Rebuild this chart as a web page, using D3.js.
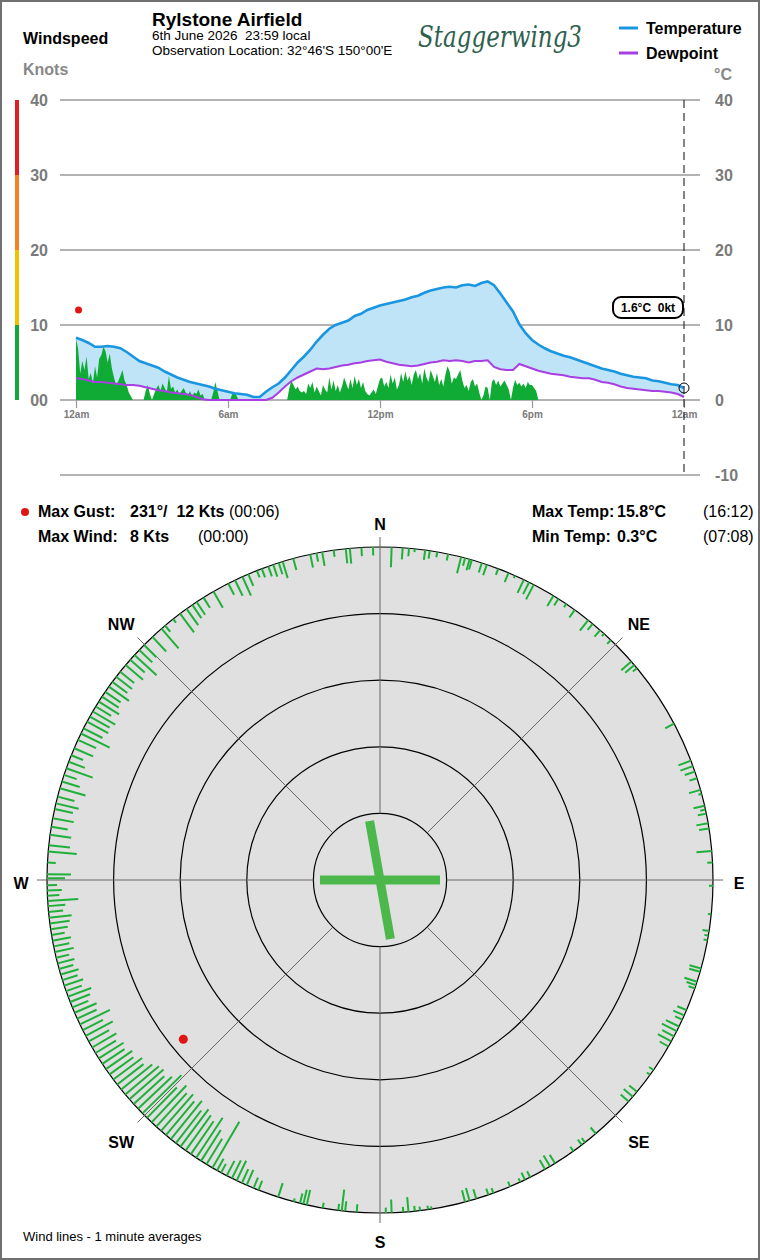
<!DOCTYPE html>
<html>
<head>
<meta charset="utf-8">
<script src="https://cdn.jsdelivr.net/npm/d3@7"></script>
<style>
  body { margin: 0; background: #fff; }
  svg { display: block; font-family: "Liberation Sans", Arial, sans-serif; }
</style>
</head>
<body>
<div id="chart"></div>
<script>
// temperature + dewpoint, 15 minute samples 00:00 -> 24:00 (deg C)
const tempC = [
  8.3, 8.0, 7.6, 7.1,   7.1, 7.2, 7.1, 6.9,   6.4, 5.8, 5.2, 4.9,   4.6, 4.3, 3.8, 3.4,
  3.0, 2.7, 2.4, 2.2,   2.0, 1.8, 1.5, 1.3,   1.1, 0.9, 0.8, 0.7,   0.4, 0.4, 1.1, 1.7,
  2.2, 3.0, 4.0, 5.0,   5.8, 6.7, 7.8, 8.7,   9.5, 10.0, 10.3, 10.6, 11.2, 11.5, 12.0, 12.3,
  12.6, 12.8, 13.0, 13.2, 13.4, 13.7, 13.9, 14.3, 14.6, 14.8, 15.0, 15.1, 15.0, 15.3, 15.4, 15.2,
  15.6, 15.8, 15.3, 14.2, 13.0, 11.8, 10.1, 8.9,  8.0, 7.4, 6.9, 6.5,   6.2, 5.9, 5.7, 5.4,
  5.1, 4.8, 4.5, 4.2,   4.0, 3.8, 3.5, 3.3,   3.1, 3.0, 2.9, 2.6,   2.5, 2.3, 2.1, 2.0,
  1.6
];
const dewC = [
  2.9, 2.8, 2.6, 2.4,   2.4, 2.3, 2.2, 2.1,   2.0, 2.0, 1.9, 1.7,   1.5, 1.3, 1.2, 1.0,
  0.9, 0.8, 0.7, 0.4,   0.1, 0.0, 0.0, 0.0,   0.0, 0.0, 0.0, 0.0,   0.0, 0.0, 0.0, 0.3,
  1.0, 1.8, 2.5, 3.0,   3.4, 3.8, 4.2, 4.1,   4.2, 4.4, 4.6, 4.7,   4.9, 5.0, 5.2, 5.3,
  5.4, 5.1, 4.9, 4.7,   4.6, 4.5, 4.6, 4.8,   5.0, 5.1, 5.3, 5.2,   5.3, 5.2, 5.0, 5.2,
  5.2, 5.3, 4.4, 4.1,   4.0, 4.0, 4.8, 4.5,   4.2, 3.9, 3.7, 3.5,   3.4, 3.3, 3.1, 3.0,
  2.9, 2.9, 2.7, 2.4,   2.3, 2.1, 1.8, 1.6,   1.5, 1.4, 1.3, 1.2,   1.2, 1.1, 1.0, 0.8,
  0.4
];
// wind speed, 5 minute samples (knots), one row per hour
const windKts = [
  8.2, 6.8, 3.5, 5.2, 4.0, 5.8, 2.8, 3.6, 2.2, 4.5, 3.0, 5.5,
  6.0, 7.1, 6.5, 5.0, 6.2, 4.2, 3.0, 2.0, 2.5, 3.2, 4.0, 2.6,
  2.0, 1.0, 0.5, 0, 0, 0, 0, 0, 0, 1.2, 2.0, 0.8,
  0, 0.8, 1.5, 2.0, 1.2, 2.2, 1.6, 1.0, 3.2, 1.5, 1.8, 1.0,
  1.4, 0.8, 1.2, 1.6, 1.0, 0.6, 1.2, 0.5, 1.0, 0.8, 1.4, 0.6,
  0.8, 0, 0, 0, 0, 1.0, 2.4, 1.2, 0, 0, 0, 0,
  0, 0, 0.8, 1.0, 0.6, 0, 0, 0, 0, 0, 0, 0,
  0, 0, 0, 0, 0, 0, 0, 0, 0, 0, 0, 0,
  0, 0, 0, 0, 0, 1.5, 2.6, 2.0, 1.4, 1.8, 1.2, 1.0,
  1.2, 0.8, 2.2, 1.6, 2.4, 1.0, 1.8, 1.2, 0.6, 2.0, 1.4, 1.0,
  3.0, 1.4, 2.6, 1.2, 2.0, 1.0, 1.8, 3.0, 2.2, 1.4, 2.8, 1.6,
  3.2, 2.0, 2.8, 1.6, 2.4, 1.2, 0.8, 0.6, 1.0, 1.4, 0.8, 1.8,
  2.8, 3.0, 1.8, 2.4, 1.6, 3.4, 2.2, 3.0, 1.4, 2.0, 3.6, 2.4,
  3.8, 2.6, 3.2, 2.0, 3.4, 4.0, 2.8, 3.6, 2.2, 4.2, 3.0, 2.4,
  4.0, 3.2, 2.4, 3.6, 2.0, 2.8, 1.8, 3.4, 4.5, 3.8, 2.2, 3.0,
  2.8, 3.4, 4.0, 2.6, 1.6, 2.0, 1.2, 2.4, 2.8, 1.8, 2.2, 1.0,
  0, 0.6, 1.8, 1.6, 0, 2.4, 2.8, 2.0, 2.6, 1.8, 2.2, 2.6,
  2.0, 1.4, 0, 1.6, 2.7, 2.0, 2.3, 1.8, 2.2, 1.6, 2.4, 2.0,
  2.0, 1.6, 1.2, 0, 0, 0, 0, 0, 0, 0, 0, 0,
  0, 0, 0, 0, 0, 0, 0, 0, 0, 0, 0, 0,
  0, 0, 0, 0, 0, 0, 0, 0, 0, 0, 0, 0,
  0, 0, 0, 0, 0, 0, 0, 0, 0, 0, 0, 0,
  0, 0, 0, 0, 0, 0, 0, 0, 0, 0, 0, 0,
  0, 0, 0, 0, 0, 0, 0, 0, 0, 0, 0, 0,
  0
];

const speedTicks = [0, 10, 20, 30, 40];
const tempTicks = [40, 30, 20, 10, 0, -10];
const hourTicks = [0, 6, 12, 18, 24];
const hourLabels = ["12am", "6am", "12pm", "6pm", "12am"];
const bandColors = ["#14a83a", "#f2c200", "#f5821f", "#e02020"];

// wind rose: 1 minute averages as [bearing, knots]
const roseNE = [
  [2, 3.0], [3.9, 1.75], [5, 1.2], [6, 0.5], [7.8, 1.5], [8.6, 1.2], [9.9, 0.8], [11.8, 1.0],
  [14.1, 2.5], [14.8, 1.2], [15.6, 1.7], [16, 1.5], [17.8, 1.5], [18.7, 1.7], [20.8, 1.0],
  [22.7, 1.5], [23.9, 0.4], [25.6, 2.2], [26.6, 2.0], [27.5, 2.5], [31.4, 1.8], [32.4, 1.2],
  [34, 0.6], [35.8, 1.4], [38.7, 2.0], [39.7, 1.2], [41.4, 1.3], [42.3, 0.5], [43.9, 0.8],
  [49, 2.0], [49.8, 1.8], [50.5, 0.8], [62, 1.5], [69, 2.0], [70, 2.0], [71, 1.6], [72.2, 1.2],
  [74.3, 1.8], [75, 0.5], [77.1, 1.7], [77.8, 0.8], [78.5, 1.3], [80.2, 1.8], [81.1, 1.5],
  [85, 2.3], [87, 0.8]
];
const roseSE = [
  [91, 0.6], [95.9, 0.5], [98.8, 1.0], [99.6, 0.6], [100.4, 0.6], [105.4, 1.8], [106, 1.7],
  [107.8, 2.0], [108.4, 1.5], [109, 1.0], [113, 1.5], [114, 1.8], [114.8, 1.2], [116.1, 2.2],
  [117, 2.5], [118, 2.0], [119, 2.3], [120, 1.5], [124.8, 0.8], [125.8, 0.6], [129.5, 1.5],
  [130.6, 1.8], [131.7, 1.6], [139.6, 1.2], [142, 0.8], [142.7, 1.0], [144.5, 0.8], [148.3, 1.5],
  [149.3, 1.9], [150.3, 1.6], [153.2, 1.0], [154.2, 1.2], [155.1, 0.6], [157, 0.8], [160.1, 0.8],
  [161, 1.0], [163.2, 1.5], [164.4, 2.0], [165.2, 1.8], [171.1, 0.4], [171.7, 0.6], [173.1, 0.6],
  [174, 0.8], [175.1, 2.2], [176, 0.8], [178, 2.0], [179, 0.8]
];
const roseSW = [
  [184, 1.2], [186, 1.5], [186.6, 3.2], [187.2, 1.0], [189.9, 0.8], [192.7, 2.3], [193.3, 2.2],
  [193.9, 1.5], [195, 0.5], [197.8, 2.2], [201.4, 1.5], [202.3, 1.7], [203.6, 2.5], [204.5, 2.3],
  [205.5, 3.3], [206.4, 3.0], [207.4, 2.5], [208.5, 1.5], [209.3, 2.0], [210.2, 8.0],
  [211.4, 4.5], [212.5, 5.5], [213.5, 7.2], [214.6, 6.0], [215.7, 6.5], [216.8, 7.0], [217.8, 6.2],
  [218.9, 7.4], [220, 6.6], [221.1, 7.3], [222.2, 6.8], [223.3, 7.6], [224.4, 6.4], [225.5, 8.2],
  [226.6, 7.0], [227.7, 6.2], [228.8, 6.8], [229.9, 6.6], [231, 6.0], [232.1, 5.0], [233.2, 5.4],
  [234.3, 4.4], [235.4, 4.8], [236.5, 4.0], [237.6, 4.4], [238.7, 3.6], [239.8, 4.2], [241, 3.5],
  [242.1, 4.6], [243.2, 3.4], [244.3, 5.0], [245.4, 3.2], [246.5, 3.6], [247.5, 2.6], [248.5, 3.2],
  [249.5, 3.7], [250.5, 2.5], [251.5, 3.0], [252.5, 2.4], [253.5, 2.8], [254.5, 2.2], [255.5, 2.6],
  [256.5, 2.0], [257.5, 2.9], [258.5, 2.4], [259.5, 2.8], [260.5, 2.0], [261.5, 2.6], [262.5, 3.0],
  [263.5, 3.4], [264.5, 2.2], [265.5, 2.6], [266.4, 4.6], [267.3, 1.8], [268.2, 2.2], [269.1, 1.5]
];
const roseNW = [
  [270.3, 2.7], [271, 3.6], [273, 1.25], [274.9, 4.3], [276, 3.2], [277.8, 3.2], [279.2, 2.5],
  [280.7, 3.2], [282.3, 2.8], [283.3, 3.5], [284.5, 2.6], [286, 4.0], [287.2, 2.8], [288.4, 2.0],
  [289.6, 4.2], [290.8, 2.6], [292, 1.9], [293.3, 3.1], [294.9, 3.0], [296.1, 4.8], [297.1, 3.2],
  [298.4, 3.6], [299.4, 3.4], [300.4, 3.9], [301.4, 2.7], [302.4, 3.6], [303.4, 3.0], [304.4, 2.8],
  [305.5, 3.7], [306.5, 2.8], [307.6, 3.0], [308.7, 2.7], [310.2, 3.4], [311.4, 2.9], [312.5, 4.5],
  [313.7, 2.7], [314.9, 2.6], [316.9, 3.0], [319, 3.9], [319.8, 1.2], [321.6, 0.7], [323.1, 3.5],
  [324.5, 3.0], [325.7, 2.4], [326.6, 2.3], [328, 1.8], [330, 2.8], [332.9, 1.9], [334.2, 2.6],
  [335.6, 3.1], [336.7, 1.9], [338.3, 1.1], [339.2, 1.4], [340.4, 1.6], [341.3, 1.9], [342.3, 1.8],
  [343, 2.6], [344.9, 1.8], [347.9, 2.0], [349, 1.3], [350, 2.1], [352, 1.0], [354.1, 2.2],
  [354.8, 2.3], [356.8, 1.3], [358.8, 1.25]
];
const compass = ["N", "NE", "E", "SE", "S", "SW", "W", "NW"];
const ringKts = [10, 20, 30, 40];
const runways = [90, 170];

const gust = { dir: 231, kts: 12, time: "00:06", hour: 0.1 };
const maxWind = { kts: 8, time: "00:00" };
const maxTemp = { c: 15.8, time: "16:12" };
const minTemp = { c: 0.3, time: "07:08" };

const width = 760, height = 1260;
const grey = "#7a7a7a";

const svg = d3.select("#chart").append("svg")
  .attr("width", width)
  .attr("height", height);

svg.append("rect")
  .attr("x", 1).attr("y", 1)
  .attr("width", width - 2).attr("height", height - 2)
  .attr("fill", "#fff")
  .attr("stroke", "#707070")
  .attr("stroke-width", 2);

// ---- header ----
svg.append("text").attr("x", 23).attr("y", 44)
  .style("font-size", "16px").style("font-weight", "bold").text("Windspeed");
svg.append("text").attr("x", 23).attr("y", 75)
  .style("font-size", "16px").style("font-weight", "bold").attr("fill", "#888").text("Knots");
svg.append("text").attr("x", 152).attr("y", 26)
  .style("font-size", "19px").style("font-weight", "bold").text("Rylstone Airfield");
svg.append("text").attr("x", 152).attr("y", 40).attr("xml:space", "preserve")
  .style("font-size", "13.5px").text("6th June 2026  23:59 local");
svg.append("text").attr("x", 152).attr("y", 55)
  .style("font-size", "13.5px").text("Observation Location: 32°46'S 150°00'E");
svg.append("text").attr("x", 418).attr("y", 47)
  .attr("textLength", 164).attr("lengthAdjust", "spacingAndGlyphs")
  .style("font-family", "'DejaVu Serif', serif").style("font-style", "italic")
  .style("font-size", "29px").attr("fill", "#2f5f4f").text("Staggerwing3");

const legend = [["Temperature", "#1a96e0"], ["Dewpoint", "#a83fe3"]];
legend.forEach((d, i) => {
  svg.append("line")
    .attr("x1", 619).attr("x2", 638)
    .attr("y1", 28 + i * 25).attr("y2", 28 + i * 25)
    .attr("stroke", d[1]).attr("stroke-width", 3);
  svg.append("text").attr("x", 646).attr("y", 34 + i * 25)
    .style("font-size", "16px").style("font-weight", "bold").text(d[0]);
});
svg.append("text").attr("x", 714).attr("y", 80)
  .style("font-size", "16px").style("font-weight", "bold").attr("fill", "#888").text("°C");

// ---- time series ----
const x = d3.scaleLinear().domain([0, 24]).range([76, 684]);
const y = d3.scaleLinear().domain([-10, 40]).range([475, 100]);

speedTicks.slice(0, 4).forEach((v, i) => {
  svg.append("rect")
    .attr("x", 15).attr("width", 4)
    .attr("y", y(v + 10)).attr("height", y(v) - y(v + 10))
    .attr("fill", bandColors[i]);
});

svg.append("g").selectAll("line")
  .data(tempTicks).enter().append("line")
  .attr("x1", 60).attr("x2", 700)
  .attr("y1", d => y(d)).attr("y2", d => y(d))
  .attr("stroke", "#9a9a9a").attr("stroke-width", 1.5);

svg.append("g").selectAll("text")
  .data(speedTicks).enter().append("text")
  .attr("x", 48).attr("y", d => y(d)).attr("dy", "0.36em")
  .attr("text-anchor", "end").attr("fill", grey)
  .style("font-size", "16px").style("font-weight", "bold")
  .text(d => d === 0 ? "00" : d);

svg.append("g").selectAll("text")
  .data(tempTicks).enter().append("text")
  .attr("x", 715).attr("y", d => y(d)).attr("dy", "0.36em")
  .attr("fill", grey)
  .style("font-size", "16px").style("font-weight", "bold")
  .text(d => d);

const xAxis = svg.append("g").attr("transform", `translate(0,${y(0)})`)
  .call(d3.axisBottom(x).tickValues(hourTicks).tickSize(8).tickPadding(3)
    .tickFormat((d, i) => hourLabels[i]));
xAxis.select(".domain").remove();
xAxis.selectAll("line").attr("stroke", "#9a9a9a").attr("stroke-width", 1.2);
xAxis.selectAll("text").attr("fill", grey)
  .style("font-size", "10px").style("font-weight", "bold")
  .style("font-family", "'Liberation Sans', Arial, sans-serif");

const qx = (d, i) => x(i / 4);
const band = d3.area()
  .x(qx)
  .y0((d, i) => y(dewC[i]))
  .y1(d => y(d));
svg.append("path").datum(tempC).attr("d", band).attr("fill", "#bfe3f7");

const windArea = d3.area()
  .x((d, i) => x(i / 12))
  .y0(y(0))
  .y1(d => y(d));
svg.append("path").datum(windKts).attr("d", windArea).attr("fill", "#10ab34");

const line = d3.line().x(qx).y(d => y(d));
svg.append("path").datum(dewC).attr("d", line)
  .attr("fill", "none").attr("stroke", "#a83fe3").attr("stroke-width", 2);
svg.append("path").datum(tempC).attr("d", line)
  .attr("fill", "none").attr("stroke", "#1a96e0").attr("stroke-width", 2.6);

svg.append("circle")
  .attr("cx", x(gust.hour)).attr("cy", y(gust.kts)).attr("r", 3.5)
  .attr("fill", "#e01515");

svg.append("line")
  .attr("x1", x(24)).attr("x2", x(24))
  .attr("y1", y(40)).attr("y2", y(-10))
  .attr("stroke", "#333").attr("stroke-width", 1.2)
  .attr("stroke-dasharray", "8,5");

const lastT = tempC[tempC.length - 1];
const lastW = windKts[windKts.length - 1];
svg.append("circle")
  .attr("cx", x(24)).attr("cy", y(lastT)).attr("r", 5)
  .attr("fill", "none").attr("stroke", "#000").attr("stroke-width", 1);
svg.append("rect")
  .attr("x", x(24) - 71).attr("y", 297)
  .attr("width", 70).attr("height", 21).attr("rx", 8)
  .attr("fill", "#fff").attr("stroke", "#000").attr("stroke-width", 2);
svg.append("text")
  .attr("x", x(24) - 36).attr("y", 312)
  .attr("text-anchor", "middle").attr("xml:space", "preserve")
  .style("font-size", "12px").style("font-weight", "bold")
  .text(`${lastT.toFixed(1)}°C  ${lastW}kt`);

// ---- stats ----
function stat(xp, yp, txt, bold) {
  svg.append("text").attr("x", xp).attr("y", yp).attr("xml:space", "preserve")
    .style("font-size", "16px").style("font-weight", bold ? "bold" : "normal")
    .text(txt);
}
svg.append("circle").attr("cx", 25).attr("cy", 512).attr("r", 4).attr("fill", "#e01515");
stat(38, 517, "Max Gust:", true);
stat(130, 517, `${gust.dir}°/  ${gust.kts} Kts`, true);
stat(229, 517, `(${gust.time})`, false);
stat(38, 542, "Max Wind:", true);
stat(130, 542, `${maxWind.kts} Kts`, true);
stat(198, 542, `(${maxWind.time})`, false);
stat(532, 517, "Max Temp:", true);
stat(617, 517, `${maxTemp.c}°C`, true);
stat(703, 517, `(${maxTemp.time})`, false);
stat(532, 542, "Min Temp:", true);
stat(617, 542, `${minTemp.c}°C`, true);
stat(703, 542, `(${minTemp.time})`, false);

// ---- wind rose ----
const cx = 380, cy = 880, R = 333;
const rr = d3.scaleLinear().domain([0, 50]).range([R, 0]);
function polar(bearing, r) {
  const a = bearing * Math.PI / 180;
  return [cx + r * Math.sin(a), cy - r * Math.cos(a)];
}

const rose = svg.append("g");
rose.append("circle").attr("cx", cx).attr("cy", cy).attr("r", R)
  .attr("fill", "#e0e0e0").attr("stroke", "#000").attr("stroke-width", 1.2);

rose.selectAll(".ring").data(ringKts).enter().append("circle")
  .attr("cx", cx).attr("cy", cy).attr("r", d => rr(d))
  .attr("fill", "none").attr("stroke", "#000").attr("stroke-width", 1.2);

rose.selectAll(".spoke").data(compass).enter().append("line")
  .attr("x1", (d, i) => polar(i * 45, rr(40))[0])
  .attr("y1", (d, i) => polar(i * 45, rr(40))[1])
  .attr("x2", (d, i) => polar(i * 45, R + 10)[0])
  .attr("y2", (d, i) => polar(i * 45, R + 10)[1])
  .attr("stroke", "#666").attr("stroke-width", 1);

// diagonal labels sit a little further out than the cardinal ones
const labelR = i => i % 2 ? 366 : 359;
rose.selectAll(".lbl").data(compass).enter().append("text")
  .attr("x", (d, i) => polar(i * 45, labelR(i))[0])
  .attr("y", (d, i) => polar(i * 45, labelR(i))[1] + 3)
  .attr("text-anchor", "middle").attr("dy", "0.36em")
  .style("font-size", "16px").style("font-weight", "bold")
  .text(d => d);

const roseData = roseNE.concat(roseSE, roseSW, roseNW);
rose.selectAll(".wl").data(roseData).enter().append("line")
  .attr("x1", d => polar(d[0], R)[0])
  .attr("y1", d => polar(d[0], R)[1])
  .attr("x2", d => polar(d[0], rr(d[1]))[0])
  .attr("y2", d => polar(d[0], rr(d[1]))[1])
  .attr("stroke", "#1fb03a").attr("stroke-width", 2);

rose.selectAll(".rwy").data(runways).enter().append("line")
  .attr("x1", d => polar(d, 60)[0])
  .attr("y1", d => polar(d, 60)[1])
  .attr("x2", d => polar(d + 180, 60)[0])
  .attr("y2", d => polar(d + 180, 60)[1])
  .attr("stroke", "#4cb84c").attr("stroke-width", 9);

const gp = polar(gust.dir, rr(gust.kts));
rose.append("circle").attr("cx", gp[0]).attr("cy", gp[1]).attr("r", 4.5).attr("fill", "#e01515");

svg.append("text").attr("x", 23).attr("y", 1241)
  .style("font-size", "13px").text("Wind lines - 1 minute averages");
</script>
</body>
</html>
